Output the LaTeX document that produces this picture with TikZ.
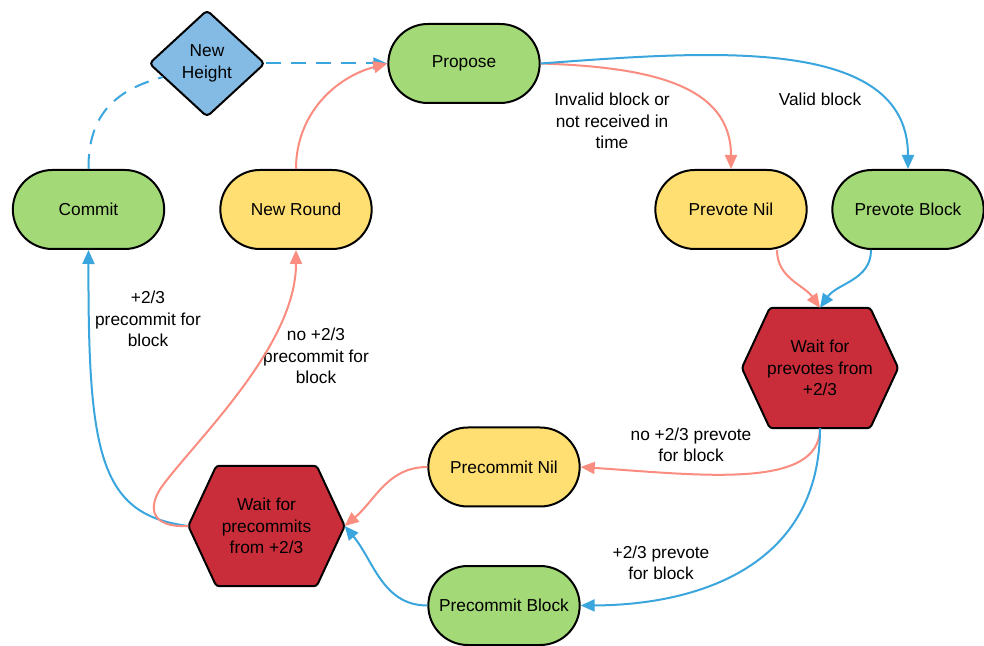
\documentclass[tikz,border=0pt]{standalone}
\usepackage{fontspec}
\setmainfont{Liberation Sans}
\usetikzlibrary{shapes.geometric,shapes.misc,arrows.meta,calc,backgrounds}
\definecolor{cgreen}{HTML}{A3D977}
\definecolor{cyellow}{HTML}{FFDF71}
\definecolor{cred}{HTML}{C92D39}
\definecolor{cdiam}{HTML}{83BBE5}
\definecolor{cblue}{HTML}{3AA6DD}
\definecolor{csalmon}{HTML}{FA8C80}
\begin{document}
\begin{tikzpicture}[x=1pt,y=1pt,
  every node/.style={font=\fontsize{17.3}{21.5}\selectfont, text=black},
  stadium/.style={rounded rectangle, draw=black, line width=2pt, minimum width=158pt, minimum height=79pt, align=center},
  greenbox/.style={stadium, fill=cgreen},
  yellowbox/.style={stadium, fill=cyellow},
  hexbox/.style={minimum width=156pt, minimum height=120pt, inner sep=0pt, align=center},
  hexshape/.style={fill=cred, draw=black, line width=2pt, rounded corners=3pt},
  diambox/.style={diamond, draw=black, line width=2pt, fill=cdiam, rounded corners=4pt, minimum width=116pt, minimum height=107pt, inner sep=0pt, align=center},
  lbl/.style={align=center},
  tip/.style={-{Triangle[length=14pt,width=12pt]}},
  bl/.style={draw=cblue, line width=2pt, tip},
  sl/.style={draw=csalmon, line width=2pt, tip},
  bldash/.style={draw=cblue, line width=2pt, dash pattern=on 15pt off 10pt}]
\useasboundingbox (0,0) rectangle (984,645);

% nodes
\node[greenbox]  (commit)   at (88.5,435.5) {Commit};
\node[yellowbox] (newround) at (296,435.5) {New Round};
\node[greenbox]  (propose)  at (464,581.5) {Propose};
\node[diambox]   (nh)       at (207,581.5) {New\\Height};
\node[yellowbox] (pvnil)    at (731,435.5) {Prevote Nil};
\node[greenbox]  (pvblock)  at (908,435.5) {Prevote Block};
\node[hexbox]    (wp)       at (820,277) {Wait for\\prevotes from\\+2/3};
\node[yellowbox] (pcn)      at (504,178) {Precommit Nil};
\node[greenbox]  (pcb)      at (504,39.5) {Precommit Block};
\node[hexbox]    (wpc)      at (266.5,119) {Wait for\\precommits\\from +2/3};

\begin{scope}[on background layer]
\fill[white] (0,0) rectangle (984,645);
\foreach \h in {wp,wpc}
  \draw[hexshape] ($(\h.north west)+(28,0)$) -- ($(\h.north east)+(-28,0)$) -- (\h.east)
     -- ($(\h.south east)+(-28,0)$) -- ($(\h.south west)+(28,0)$) -- (\h.west) -- cycle;
\end{scope}

% labels
\node[lbl] (l1) at (612,524) {Invalid block or\\not received in\\time};
\node[lbl] (l2) at (820,546) {Valid block};
\node[lbl] (l3) at (691,200) {no +2/3 prevote\\for block};
\node[lbl] (l4) at (661,82) {+2/3 prevote\\for block};
\node[lbl] (l5) at (148,326) {+2/3\\precommit for\\block};
\node[lbl] (l6) at (316,289) {no +2/3\\precommit for\\block};

% connectors
\coordinate (nhll) at ($(nh.west)!0.25!(nh.south)$);
\draw[bldash] (commit.north) .. controls (88,530) and (115,555) .. (nhll);
\draw[bldash,tip] (nh.east) -- (propose.west);
\draw[sl] (newround.north) to[out=90,in=195] (propose.west);
\draw[sl] (propose.east) .. controls (650,578) and (731,560) .. (pvnil.north);
\draw[bl] (propose.east) .. controls (710,594) and (908,610) .. (pvblock.north);
\coordinate (pvnilout) at ($(pvnil.south)+(46,0)$);
\coordinate (pvblockout) at ($(pvblock.south)+(-37,0)$);
\draw[sl] (pvnilout) to[out=-90,in=125] (wp.north);
\draw[bl] (pvblockout) to[out=-90,in=55] (wp.north);
\draw[sl] (wp.south) .. controls (820,155) and (700,170) .. (pcn.east);
\draw[bl] (wp.south) .. controls (820,80) and (700,40) .. (pcb.east);
\draw[sl] (pcn.west) to[out=180,in=40] (wpc.east);
\draw[bl] (pcb.west) to[out=180,in=-50] (wpc.east);
\draw[bl] (wpc.west) .. controls (100,130) and (88,190) .. (commit.south);
\coordinate (bend) at (163,160);
\draw[sl] (wpc.west) .. controls (148,117) and (148,140) .. (bend) .. controls (199,208) and (296,300) .. (newround.south);
\end{tikzpicture}
\end{document}
